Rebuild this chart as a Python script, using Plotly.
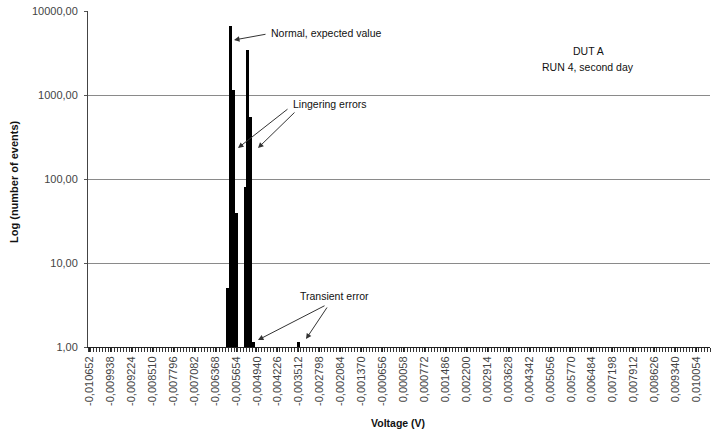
import plotly.graph_objects as go

# Histogram bins: voltage of each populated bin and its event count
BIN_WIDTH = 0.000102
FIRST_BIN = -0.010652
LAST_BIN = 0.010462
bin_voltage = [-0.005960, -0.005858, -0.005756, -0.005654,
               -0.005348, -0.005246, -0.005144, -0.005042,
               -0.003512]
event_count = [5, 6600, 1150, 39,
               80, 3400, 550, 1.15,
               1.15]

# Category labels shown on the voltage axis
x_tick_labels = ["-0,010652", "-0,009938", "-0,009224", "-0,008510", "-0,007796",
                 "-0,007082", "-0,006368", "-0,005654", "-0,004940", "-0,004226",
                 "-0,003512", "-0,002798", "-0,002084", "-0,001370", "-0,000656",
                 "0,000058", "0,000772", "0,001486", "0,002200", "0,002914",
                 "0,003628", "0,004342", "0,005056", "0,005770", "0,006484",
                 "0,007198", "0,007912", "0,008626", "0,009340", "0,010054"]
x_tick_values = [float(s.replace(",", ".")) for s in x_tick_labels]

y_tick_values = [1, 10, 100, 1000, 10000]
y_tick_labels = ["1,00", "10,00", "100,00", "1000,00", "10000,00"]

FONT = "Liberation Sans, Arial, sans-serif"
W, H = 712, 436
L, R, T, B = 88, 2, 11, 89
PW, PH = W - L - R, H - T - B


def px_to_paper(px, py):
    return (px - L) / PW, (H - B - py) / PH


fig = go.Figure()
fig.add_trace(go.Bar(
    x=bin_voltage, y=event_count, width=BIN_WIDTH,
    marker=dict(color="black", line=dict(width=0)),
    hoverinfo="x+y",
))

annotations = []

def text_at(txt, px, py, anchor="left", bold=False, size=10.5):
    xp, yp = px_to_paper(px, py)
    annotations.append(dict(
        text=f"<b>{txt}</b>" if bold else txt, x=xp, y=yp,
        xref="paper", yref="paper", xanchor=anchor, yanchor="middle",
        showarrow=False, font=dict(family=FONT, size=size, color="#111"),
    ))

def arrow(head, tail):
    xp, yp = px_to_paper(*head)
    annotations.append(dict(
        text="", x=xp, y=yp, xref="paper", yref="paper",
        ax=tail[0] - head[0], ay=tail[1] - head[1],
        showarrow=True, arrowhead=2, arrowsize=1.1, arrowwidth=1,
        arrowcolor="#333",
    ))

text_at("Normal, expected value", 269, 33)
arrow((234, 40), (267, 34))

text_at("Lingering errors", 291, 104)
arrow((238, 148), (289, 108))
arrow((258, 148), (296, 111))

text_at("Transient error", 298, 296)
arrow((258, 340), (326, 305))
arrow((306, 339), (328, 306))

text_at("DUT A", 588, 51, anchor="center")
text_at("RUN 4, second day", 588, 67, anchor="center")

# Axis titles
text_at("Voltage (V)", 398, 423, anchor="center", bold=True, size=10.5)
xp, yp = px_to_paper(14, 182)
annotations.append(dict(
    text="<b>Log (number of events)</b>", x=xp, y=yp, xref="paper", yref="paper",
    xanchor="center", yanchor="middle", textangle=-90, showarrow=False,
    font=dict(family=FONT, size=11, color="#111"),
))

fig.update_layout(
    width=W, height=H,
    margin=dict(l=L, r=R, t=T, b=B, pad=0),
    paper_bgcolor="white", plot_bgcolor="white",
    showlegend=False, bargap=0,
    font=dict(family=FONT, size=11, color="#444"),
    annotations=annotations,
    xaxis=dict(
        range=[FIRST_BIN - BIN_WIDTH / 2, LAST_BIN + BIN_WIDTH / 2],
        tickmode="array", tickvals=x_tick_values, ticktext=x_tick_labels,
        tickangle=-90, ticks="outside", ticklen=4, tickcolor="#222",
        tickfont=dict(family=FONT, size=11, color="#444"),
        showline=True, linecolor="#222", linewidth=1,
        showgrid=False, zeroline=False,
        minor=dict(ticks="outside", ticklen=4, tickcolor="#333",
                   tick0=FIRST_BIN - BIN_WIDTH / 2, dtick=BIN_WIDTH),
    ),
    yaxis=dict(
        type="log", range=[0, 4],
        tickmode="array", tickvals=y_tick_values, ticktext=y_tick_labels,
        ticks="outside", ticklen=3, tickcolor="#555",
        tickfont=dict(family=FONT, size=11, color="#444"),
        showline=True, linecolor="#444", linewidth=1,
        showgrid=True, gridcolor="#8a8a8a", gridwidth=1,
        zeroline=False, ticklabelstandoff=4,
    ),
)

fig.write_html("out.html")
